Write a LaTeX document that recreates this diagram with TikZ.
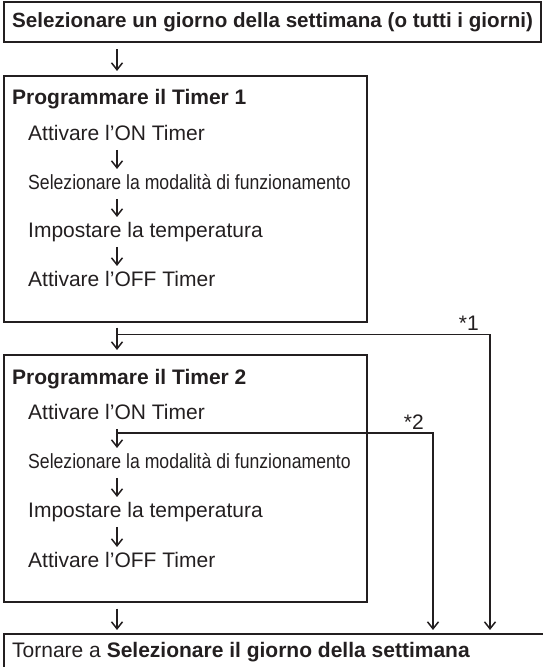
\documentclass[tikz,border=0pt]{standalone}
\usepackage{fontspec}
\setmainfont{Liberation Sans}
\newfontfamily\narrowfont[FakeStretch=0.86]{Liberation Sans}
\usetikzlibrary{positioning, arrows.meta}
\definecolor{inkcol}{RGB}{35, 31, 32}
\tikzset{
  boxframe/.style={draw=inkcol, line width=1.6pt, anchor=north west, inner sep=0pt},
  head/.style={anchor=west, inner sep=0pt, text height=15pt, text depth=4pt,
               font=\fontsize{21}{25}\selectfont\bfseries, text=inkcol},
  stepline/.style={anchor=west, inner sep=0pt, text height=15pt, text depth=4pt,
                   font=\fontsize{21}{25}\selectfont, text=inkcol},
  modeline/.style={stepline, font=\narrowfont\fontsize{20.5}{24}\selectfont},
  skiplabel/.style={anchor=base east, inner sep=0pt, font=\fontsize{21}{25}\selectfont, text=inkcol},
  flow/.style={-{Straight Barb[length=7pt, width=11pt]}, draw=inkcol, line width=1.5pt},
  branch/.style={draw=inkcol, line width=1.5pt},
}

\begin{document}
\begin{tikzpicture}[x=1pt, y=1pt]
  \useasboundingbox (0,0) rectangle (542,667);
  \coordinate (axis) at (117,0);
  \coordinate (cone) at (490,0);
  \coordinate (ctwo) at (433,0);

  \node[boxframe, minimum width=537pt, minimum height=40pt] (selbox) at (3,665.5) {};
  \node[head, right=9pt of selbox.west, font=\fontsize{20.6}{25}\selectfont\bfseries] (sel)
    {Selezionare un giorno della settimana (o tutti i giorni)};

  % timer 1
  \node[boxframe, minimum width=363pt, minimum height=246pt] (tonebox) at (3,592) {};
  \node[head, below right=24pt and 9pt of tonebox.north west, anchor=west] (tonehead) {Programmare il Timer 1};
  \node[stepline, below right=36pt and 16pt of tonehead.west, anchor=west] (toneon) {Attivare l’ON Timer};
  \node[modeline, below=49pt of toneon.west, anchor=west] (tonemode) {Selezionare la modalità di funzionamento};
  \node[stepline, below=48pt of tonemode.west, anchor=west] (tonetemp) {Impostare la temperatura};
  \node[stepline, below=49pt of tonetemp.west, anchor=west] (toneoff) {Attivare l’OFF Timer};

  % timer 2
  \node[boxframe, minimum width=363pt, minimum height=247pt] (ttwobox) at (3,313) {};
  \node[head, below right=25pt and 9pt of ttwobox.north west, anchor=west] (ttwohead) {Programmare il Timer 2};
  \node[stepline, below right=35pt and 16pt of ttwohead.west, anchor=west] (ttwoon) {Attivare l’ON Timer};
  \node[modeline, below=49pt of ttwoon.west, anchor=west] (ttwomode) {Selezionare la modalità di funzionamento};
  \node[stepline, below=49pt of ttwomode.west, anchor=west] (ttwotemp) {Impostare la temperatura};
  \node[stepline, below=50pt of ttwotemp.west, anchor=west] (ttwooff) {Attivare l’OFF Timer};

  \node[boxframe, minimum width=560pt, minimum height=60pt] (endbox) at (3,34) {};
  \node[stepline, below right=19pt and 9pt of endbox.north west, anchor=west] (back)
    {Tornare a \textbf{Selezionare il giorno della settimana}};

  \draw[flow] ([yshift=-6pt]selbox.south -| axis) -- ([yshift=4pt]tonebox.north -| axis);
  \draw[flow] ([yshift=-15pt]toneon.west -| axis) -- ([yshift=15pt]tonemode.west -| axis);
  \draw[flow] ([yshift=-15pt]tonemode.west -| axis) -- ([yshift=15pt]tonetemp.west -| axis);
  \draw[flow] ([yshift=-15pt]tonetemp.west -| axis) -- ([yshift=15pt]toneoff.west -| axis);
  \draw[flow] ([yshift=-5pt]tonebox.south -| axis) -- ([yshift=4pt]ttwobox.north -| axis);

  \draw[branch] ([yshift=-15pt]ttwoon.west -| axis) -- ([yshift=-19pt]ttwoon.west -| axis);
  \draw[flow] ([yshift=-19pt]ttwoon.west -| axis) -- ([yshift=15pt]ttwomode.west -| axis);
  \draw[flow] ([yshift=-15pt]ttwomode.west -| axis) -- ([yshift=15pt]ttwotemp.west -| axis);
  \draw[flow] ([yshift=-15pt]ttwotemp.west -| axis) -- ([yshift=15pt]ttwooff.west -| axis);
  \draw[flow] ([yshift=-6pt]ttwobox.south -| axis) -- ([yshift=3pt]endbox.north -| axis);

  % skip paths
  \coordinate (jone) at ([yshift=-12pt]tonebox.south -| axis);
  \coordinate (jtwo) at ([yshift=-19pt]ttwoon.west -| axis);
  \draw[flow] (jone) -- (jone -| cone) -- ([yshift=3pt]endbox.north -| cone);
  \draw[flow] (jtwo) -- (jtwo -| ctwo) -- ([yshift=3pt]endbox.north -| ctwo);
  \node[skiplabel] (skone) at ([shift={(-11pt,4pt)}]jone -| cone) {*1};
  \node[skiplabel] (sktwo) at ([shift={(-9pt,3pt)}]jtwo -| ctwo) {*2};
\end{tikzpicture}
\end{document}
